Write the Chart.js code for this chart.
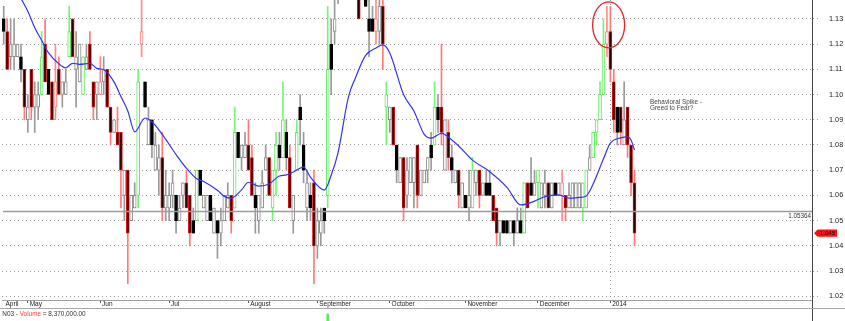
<!DOCTYPE html>
<html>
<head>
<meta charset="utf-8">
<script src="https://cdn.jsdelivr.net/npm/chart.js@4.4.1/dist/chart.umd.min.js"></script>
<style>
  html, body { margin: 0; padding: 0; background: #fff; }
  canvas { display: block; }
</style>
</head>
<body>
<canvas id="priceChart" width="845" height="309"></canvas>
<canvas id="volumeChart" width="845" height="12"></canvas>
<script>
const FONT = "'Liberation Sans', Arial, sans-serif";

// visible price range of the top pane
const Y_MIN = 1.0185;
const Y_MAX = 1.1375;
const yTicks = [1.02, 1.03, 1.04, 1.05, 1.06, 1.07, 1.08, 1.09, 1.10, 1.11, 1.12, 1.13];

// day slots across the pane: candles fill the first 184, the rest is empty room on the right
const slotCount = 235;
const slotLabels = Array.from({ length: slotCount }, (_, i) => String(i));

// month markers on the date strip (index of first trading day)
const monthNames = ["April", "May", "Jun", "Jul", "August", "September", "October", "November", "December", "2014"];
const monthStart = [0, 7, 28, 48, 71, 91, 112, 134, 155, 176];
const yearStart = 176;

// candle colour class: g green up, w grey up, p pink up, k black down, r red down
const candleKind = (
  "krwwwkrwrw" + "wgrkrprwwg" + "rwwgwrrwpw" + "rrwrrwrwwg" + "pkwkwwrwww" +
  "kwwrrkgkww" + "kwkwwwrgkw" + "wrrkwwwrgg" + "kgkrwgkkwk" + "rwwkgkwwwk" +
  "wkrrwkkkpw" + "rgwrkwrwww" + "rwwwkgkrwr" + "kwrwkwgwrw" + "kkrrwkkwkw" +
  "kgrkwgwwrw" + "kwprwwwwgg" + "wggggprrkr" + "wrrr"
).split("");

const open = [
  1.13, 1.125, 1.115, 1.115, 1.115, 1.115, 1.11, 1.09, 1.11, 1.095,
  1.095, 1.10, 1.12, 1.11, 1.105, 1.095, 1.11, 1.10, 1.10, 1.115,
  1.13, 1.11, 1.105, 1.10, 1.11, 1.12, 1.105, 1.10, 1.10, 1.105,
  1.11, 1.095, 1.085, 1.085, 1.085, 1.06, 1.07, 1.05, 1.055, 1.06,
  1.12, 1.105, 1.08, 1.09, 1.07, 1.07, 1.075, 1.055, 1.055, 1.06,
  1.06, 1.05, 1.06, 1.065, 1.06, 1.05, 1.05, 1.07, 1.055, 1.05,
  1.06, 1.045, 1.05, 1.045, 1.05, 1.055, 1.06, 1.055, 1.085, 1.075,
  1.075, 1.08, 1.075, 1.06, 1.05, 1.055, 1.07, 1.075, 1.055, 1.07,
  1.08, 1.075, 1.085, 1.075, 1.05, 1.07, 1.095, 1.08, 1.055, 1.06,
  1.065, 1.04, 1.045, 1.055, 1.06, 1.12, 1.125, 1.14, 1.145, 1.155,
  1.145, 1.155, 1.15, 1.145, 1.14, 1.145, 1.13, 1.13, 1.125, 1.125,
  1.135, 1.095, 1.09, 1.095, 1.08, 1.065, 1.075, 1.06, 1.065, 1.065,
  1.08, 1.06, 1.065, 1.07, 1.08, 1.08, 1.095, 1.095, 1.07, 1.085,
  1.075, 1.065, 1.07, 1.055, 1.06, 1.055, 1.055, 1.065, 1.07, 1.06,
  1.065, 1.065, 1.06, 1.055, 1.045, 1.05, 1.05, 1.045, 1.05, 1.045,
  1.05, 1.045, 1.065, 1.065, 1.06, 1.065, 1.055, 1.06, 1.065, 1.055,
  1.065, 1.06, 1.06, 1.06, 1.055, 1.055, 1.055, 1.055, 1.055, 1.055,
  1.07, 1.075, 1.085, 1.09, 1.10, 1.12, 1.125, 1.105, 1.095, 1.095,
  1.08, 1.095, 1.08, 1.065,
];
const high = [
  1.135, 1.13, 1.13, 1.13, 1.12, 1.12, 1.11, 1.10, 1.11, 1.105,
  1.105, 1.125, 1.13, 1.11, 1.105, 1.12, 1.115, 1.105, 1.11, 1.135,
  1.13, 1.125, 1.12, 1.115, 1.12, 1.125, 1.105, 1.105, 1.115, 1.115,
  1.11, 1.095, 1.09, 1.095, 1.085, 1.07, 1.07, 1.06, 1.065, 1.11,
  1.145, 1.105, 1.095, 1.09, 1.085, 1.08, 1.085, 1.07, 1.065, 1.07,
  1.06, 1.06, 1.065, 1.07, 1.06, 1.055, 1.07, 1.07, 1.06, 1.06,
  1.06, 1.055, 1.05, 1.055, 1.06, 1.065, 1.06, 1.095, 1.085, 1.08,
  1.085, 1.09, 1.08, 1.065, 1.06, 1.07, 1.08, 1.075, 1.07, 1.085,
  1.085, 1.105, 1.09, 1.08, 1.06, 1.09, 1.10, 1.085, 1.07, 1.065,
  1.07, 1.055, 1.055, 1.055, 1.135, 1.13, 1.14, 1.15, 1.155, 1.16,
  1.16, 1.16, 1.155, 1.15, 1.15, 1.15, 1.14, 1.135, 1.14, 1.14,
  1.14, 1.105, 1.095, 1.095, 1.08, 1.075, 1.075, 1.075, 1.075, 1.075,
  1.08, 1.07, 1.07, 1.075, 1.085, 1.105, 1.10, 1.12, 1.09, 1.09,
  1.08, 1.07, 1.07, 1.065, 1.06, 1.07, 1.075, 1.07, 1.07, 1.065,
  1.07, 1.07, 1.06, 1.055, 1.05, 1.05, 1.05, 1.05, 1.05, 1.055,
  1.055, 1.065, 1.065, 1.075, 1.07, 1.07, 1.065, 1.07, 1.065, 1.065,
  1.065, 1.065, 1.07, 1.06, 1.065, 1.065, 1.065, 1.065, 1.065, 1.07,
  1.08, 1.085, 1.09, 1.105, 1.13, 1.135, 1.135, 1.11, 1.095, 1.095,
  1.105, 1.095, 1.08, 1.07,
];
const low = [
  1.12, 1.11, 1.11, 1.11, 1.115, 1.105, 1.09, 1.085, 1.09, 1.085,
  1.09, 1.10, 1.105, 1.10, 1.09, 1.09, 1.10, 1.095, 1.10, 1.115,
  1.115, 1.095, 1.105, 1.10, 1.11, 1.11, 1.09, 1.09, 1.10, 1.10,
  1.095, 1.08, 1.085, 1.08, 1.055, 1.05, 1.025, 1.05, 1.055, 1.055,
  1.115, 1.095, 1.08, 1.075, 1.07, 1.06, 1.05, 1.05, 1.05, 1.055,
  1.045, 1.05, 1.055, 1.055, 1.04, 1.045, 1.05, 1.06, 1.055, 1.05,
  1.05, 1.045, 1.035, 1.04, 1.05, 1.055, 1.045, 1.055, 1.075, 1.07,
  1.075, 1.07, 1.06, 1.045, 1.045, 1.055, 1.07, 1.06, 1.05, 1.06,
  1.07, 1.075, 1.07, 1.055, 1.045, 1.07, 1.08, 1.065, 1.05, 1.05,
  1.025, 1.035, 1.04, 1.045, 1.055, 1.10, 1.12, 1.136, 1.14, 1.145,
  1.14, 1.145, 1.14, 1.13, 1.14, 1.135, 1.115, 1.125, 1.12, 1.12,
  1.11, 1.08, 1.085, 1.08, 1.065, 1.065, 1.05, 1.055, 1.065, 1.055,
  1.055, 1.06, 1.065, 1.065, 1.07, 1.08, 1.085, 1.08, 1.07, 1.07,
  1.065, 1.065, 1.055, 1.055, 1.055, 1.05, 1.055, 1.06, 1.055, 1.06,
  1.06, 1.06, 1.05, 1.04, 1.04, 1.045, 1.045, 1.045, 1.04, 1.045,
  1.045, 1.045, 1.055, 1.06, 1.06, 1.055, 1.055, 1.055, 1.055, 1.055,
  1.06, 1.06, 1.05, 1.05, 1.055, 1.055, 1.055, 1.055, 1.05, 1.055,
  1.07, 1.075, 1.08, 1.09, 1.10, 1.115, 1.105, 1.085, 1.08, 1.08,
  1.08, 1.075, 1.06, 1.04,
];
const close = [
  1.125, 1.11, 1.12, 1.12, 1.12, 1.11, 1.095, 1.095, 1.095, 1.10,
  1.10, 1.115, 1.105, 1.10, 1.09, 1.105, 1.10, 1.105, 1.105, 1.125,
  1.115, 1.115, 1.12, 1.115, 1.115, 1.11, 1.095, 1.105, 1.105, 1.11,
  1.095, 1.085, 1.09, 1.08, 1.07, 1.07, 1.045, 1.06, 1.06, 1.105,
  1.125, 1.095, 1.09, 1.08, 1.08, 1.075, 1.055, 1.06, 1.06, 1.065,
  1.05, 1.055, 1.065, 1.055, 1.045, 1.045, 1.07, 1.06, 1.06, 1.06,
  1.05, 1.055, 1.045, 1.05, 1.06, 1.06, 1.05, 1.085, 1.075, 1.08,
  1.08, 1.07, 1.06, 1.055, 1.06, 1.065, 1.075, 1.06, 1.07, 1.08,
  1.075, 1.09, 1.075, 1.055, 1.06, 1.085, 1.09, 1.07, 1.065, 1.055,
  1.04, 1.05, 1.05, 1.05, 1.11, 1.11, 1.13, 1.145, 1.15, 1.15,
  1.155, 1.15, 1.145, 1.13, 1.145, 1.135, 1.125, 1.125, 1.13, 1.135,
  1.12, 1.10, 1.095, 1.08, 1.07, 1.075, 1.055, 1.07, 1.075, 1.075,
  1.06, 1.07, 1.07, 1.075, 1.075, 1.095, 1.09, 1.085, 1.09, 1.075,
  1.07, 1.07, 1.06, 1.065, 1.055, 1.06, 1.07, 1.07, 1.06, 1.065,
  1.06, 1.06, 1.05, 1.045, 1.05, 1.045, 1.045, 1.05, 1.045, 1.05,
  1.045, 1.065, 1.055, 1.06, 1.065, 1.07, 1.065, 1.065, 1.055, 1.065,
  1.06, 1.065, 1.065, 1.055, 1.06, 1.065, 1.065, 1.065, 1.065, 1.07,
  1.075, 1.085, 1.09, 1.10, 1.12, 1.125, 1.11, 1.09, 1.085, 1.085,
  1.09, 1.08, 1.065, 1.045,
];

// blue moving average at these day indices
const maIndex = [
  4, 7, 9, 11, 13, 16, 18, 20, 22, 25, 27, 29, 32, 34, 36, 38, 41, 43, 46, 50,
  53, 56, 58, 62, 64, 66, 69, 71, 74, 77, 80, 82, 84, 87, 89, 93, 95, 97, 100, 102,
  105, 108, 110, 112, 116, 119, 122, 124, 127, 130, 132, 136, 141, 146, 150, 154, 157, 161, 164, 167,
  169, 171, 174, 176, 179, 181, 182, 183,
];
const maValue = [
  1.1405, 1.1330, 1.1265, 1.1215, 1.1165, 1.1122, 1.1106, 1.1124, 1.1120, 1.1124,
  1.1104, 1.1098, 1.1050, 1.0992, 1.0935, 1.0852, 1.0907, 1.0892, 1.0842, 1.0762,
  1.0708, 1.0666, 1.0655, 1.0620, 1.0596, 1.0589, 1.0622, 1.0652, 1.0637, 1.0645,
  1.0677, 1.0681, 1.0693, 1.0712, 1.0672, 1.0621, 1.0680, 1.0770, 1.0990, 1.1065,
  1.1155, 1.1185, 1.1197, 1.1165, 1.1000, 1.0935, 1.0842, 1.0827, 1.0846, 1.0820,
  1.0796, 1.0740, 1.0694, 1.0632, 1.0562, 1.0577, 1.0595, 1.0602, 1.0589, 1.0592,
  1.0598, 1.0645, 1.0745, 1.0807, 1.0828, 1.0832, 1.0820, 1.0780,
];

// volume pane: only the September spike reaches into the visible strip
const volumeIndex = [94];
const volumeValue = [28000000];
const VOL_MAX = 48000000;

const REF_LEVEL = 1.05364;
const SPIKE = { from: 175, to: 176, price: 1.1276 };
const NOTE = { index: 187.5, price: 1.0963, lines: ["Behavioral Spike -", "Greed to Fear?"] };

const kindStyle = {
  g: { wick: "#74f574", fill: "#ffffff", edge: "#5ee85e" },
  w: { wick: "#9a9a9a", fill: "#ffffff", edge: "#8c8c8c" },
  p: { wick: "#ff8a8a", fill: "#ffffff", edge: "#ff7f7f" },
  k: { wick: "#9a9a9a", fill: "#000000", edge: "#000000" },
  r: { wick: "#ff7a7a", fill: "#2a0000", edge: "#d01818" },
};

const wickData = high.map((h, i) => [low[i], h]);
const bodyData = open.map((o, i) => [o, close[i]]);
const maData = new Array(slotCount).fill(null);
maIndex.forEach((d, k) => { maData[d] = maValue[k]; });
const volumeData = new Array(slotCount).fill(null);
volumeIndex.forEach((d, k) => { volumeData[d] = volumeValue[k]; });

const CLEAR = "rgba(0,0,0,0)";

const decorPlugin = {
  id: "decor",
  afterDatasetsDraw(chart) {
    const { ctx, chartArea: area, scales: { x, y } } = chart;
    ctx.save();

    const ry = Math.round(y.getPixelForValue(REF_LEVEL)) + 0.5;
    ctx.strokeStyle = "#9c9c9c";
    ctx.lineWidth = 1.6;
    ctx.beginPath();
    ctx.moveTo(area.left + 1, ry);
    ctx.lineTo(area.right, ry);
    ctx.stroke();
    ctx.font = `6.3px ${FONT}`;
    ctx.fillStyle = "#333";
    ctx.textAlign = "right";
    ctx.textBaseline = "top";
    ctx.fillText(REF_LEVEL.toFixed(5), area.right - 1, ry + 1.5);

    const ex = (x.getPixelForValue(SPIKE.from) + x.getPixelForValue(SPIKE.to)) / 2;
    const ey = y.getPixelForValue(SPIKE.price);
    ctx.strokeStyle = "#e4252a";
    ctx.lineWidth = 1.3;
    ctx.beginPath();
    ctx.ellipse(ex, ey, 16, 23, 0, 0, Math.PI * 2);
    ctx.stroke();

    ctx.font = `6.4px ${FONT}`;
    ctx.fillStyle = "#444";
    ctx.textAlign = "left";
    ctx.textBaseline = "alphabetic";
    const nx = x.getPixelForValue(NOTE.index);
    const ny = y.getPixelForValue(NOTE.price);
    NOTE.lines.forEach((t, k) => ctx.fillText(t, nx, ny + k * 6.6));
    ctx.restore();
  },
  afterDraw(chart) {
    const { ctx, chartArea: area, scales: { y } } = chart;
    const h = chart.height;
    ctx.save();
    const axisX = Math.round(area.right - 0.5) + 0.5;
    ctx.strokeStyle = "#444";
    ctx.lineWidth = 1;
    ctx.beginPath();
    ctx.moveTo(axisX, area.bottom);
    ctx.lineTo(axisX, h);
    ctx.stroke();
    ctx.strokeStyle = "#a8a8a8";
    ctx.beginPath();
    ctx.moveTo(0, h - 0.5);
    ctx.lineTo(chart.width, h - 0.5);
    ctx.stroke();

    // last price tag
    const last = close[close.length - 1];
    const ty = y.getPixelForValue(last);
    const tx = area.right + 2;
    ctx.fillStyle = "#ff1010";
    ctx.beginPath();
    ctx.moveTo(tx, ty);
    ctx.lineTo(tx + 3.5, ty - 3.6);
    ctx.lineTo(tx + 23, ty - 3.6);
    ctx.lineTo(tx + 23, ty + 3.6);
    ctx.lineTo(tx + 3.5, ty + 3.6);
    ctx.closePath();
    ctx.fill();
    ctx.font = `6.2px ${FONT}`;
    ctx.fillStyle = "#220000";
    ctx.textAlign = "center";
    ctx.textBaseline = "middle";
    ctx.fillText(last.toFixed(3), tx + 13.5, ty + 0.3);
    ctx.restore();
  },
};

new Chart(document.getElementById("priceChart"), {
  type: "bar",
  data: {
    labels: slotLabels,
    datasets: [
      {
        type: "line",
        data: maData,
        borderColor: "#3434f4",
        borderWidth: 1.2,
        pointRadius: 0,
        spanGaps: true,
        cubicInterpolationMode: "monotone",
        order: 0,
      },
      {
        data: bodyData,
        grouped: false,
        barThickness: 3,
        backgroundColor: candleKind.map((k) => kindStyle[k].fill),
        borderColor: candleKind.map((k) => kindStyle[k].edge),
        borderWidth: 1,
        borderSkipped: false,
        order: 1,
      },
      {
        data: wickData,
        grouped: false,
        barThickness: 1,
        backgroundColor: candleKind.map((k) => kindStyle[k].wick),
        borderWidth: 0,
        order: 2,
      },
    ],
  },
  options: {
    responsive: false,
    animation: false,
    devicePixelRatio: 1,
    layout: { padding: { left: 2, right: 0, top: 0, bottom: 0 } },
    plugins: { legend: { display: false }, tooltip: { enabled: false } },
    scales: {
      x: {
        type: "category",
        offset: true,
        grid: {
          offset: false,
          lineWidth: 1,
          color: (c) => (c.index === yearStart ? "#9a9a9a" : CLEAR),
          tickColor: (c) => (monthStart.indexOf(c.index) > 0 ? "#555" : CLEAR),
          tickLength: 3,
          tickBorderDash: [],
        },
        border: { display: true, color: "#a0a0a0", width: 1, dash: [1, 3] },
        ticks: {
          autoSkip: false,
          maxRotation: 0,
          minRotation: 0,
          align: "start",
          padding: -3,
          color: "#222",
          font: { family: FONT, size: 6.5 },
          callback: (v, i) => {
            const k = monthStart.indexOf(i);
            return k >= 0 ? " " + monthNames[k] : "";
          },
        },
        afterFit: (s) => { s.height = 9; s.paddingLeft = 0; s.paddingRight = 0; },
      },
      y: {
        position: "right",
        min: Y_MIN,
        max: Y_MAX,
        afterBuildTicks: (s) => { s.ticks = yTicks.map((v) => ({ value: v })); },
        grid: {
          color: "#9a9a9a",
          lineWidth: 1,
          tickLength: 17,
          tickColor: "#9a9a9a",
          tickBorderDash: [1, 3, 1, 12],
        },
        border: { display: true, color: "#444", width: 1, dash: [1, 3] },
        ticks: {
          padding: 0,
          color: "#222",
          font: { family: FONT, size: 7.3 },
          callback: (v) => Number(v).toFixed(2),
        },
        afterFit: (s) => { s.width = 33; s.paddingTop = 0; s.paddingBottom = 0; },
      },
    },
  },
  plugins: [decorPlugin],
});

const volumeTextPlugin = {
  id: "volumeText",
  afterDraw(chart) {
    const { ctx } = chart;
    ctx.save();
    ctx.font = `6.4px ${FONT}`;
    ctx.textBaseline = "alphabetic";
    ctx.textAlign = "left";
    const parts = [["N03 - ", "#333"], ["Volume", "#ff3b3b"], [" = 8,370,000.00", "#333"]];
    let px = 2.3;
    parts.forEach(([t, c]) => {
      ctx.fillStyle = c;
      ctx.fillText(t, px, 7.3);
      px += ctx.measureText(t).width;
    });
    ctx.restore();
  },
};

new Chart(document.getElementById("volumeChart"), {
  type: "bar",
  data: {
    labels: slotLabels,
    datasets: [{ data: volumeData, backgroundColor: "#5ee85e", barThickness: 2 }],
  },
  options: {
    responsive: false,
    animation: false,
    devicePixelRatio: 1,
    layout: { padding: { left: 2, right: 0, top: 0, bottom: 0 } },
    plugins: { legend: { display: false }, tooltip: { enabled: false } },
    scales: {
      x: { display: false, offset: true },
      y: {
        position: "right",
        min: 0,
        max: VOL_MAX,
        grid: { display: false },
        ticks: { display: false },
        border: { display: true, color: "#444", width: 1 },
        afterFit: (s) => { s.width = 33; s.paddingTop = 0; s.paddingBottom = 0; },
      },
    },
  },
  plugins: [volumeTextPlugin],
});
</script>
</body>
</html>
